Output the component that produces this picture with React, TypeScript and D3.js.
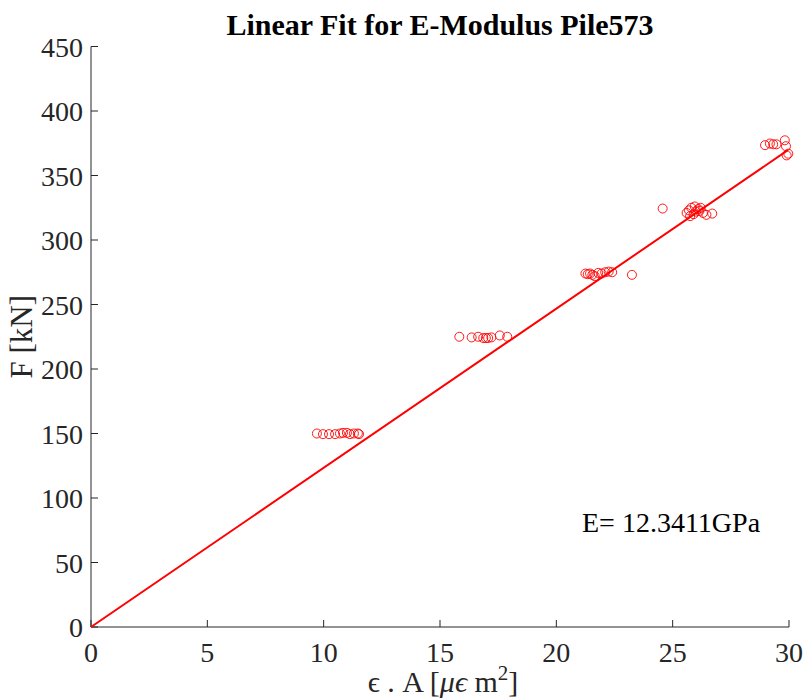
import React from "react";
import * as d3 from "d3";

const strainArea: number[] = [
  9.71, 9.97, 10.23, 10.49, 10.7, 10.83, 11.0, 11.13, 11.3, 11.47, 11.52,
  15.83, 16.36, 16.64, 16.86, 16.97, 17.07, 17.21, 17.57, 17.89,
  21.25, 21.35, 21.45, 21.55, 21.65, 21.8, 21.95, 22.1, 22.25, 22.4, 23.25,
  24.57, 25.6, 25.7, 25.8, 25.9, 26.0, 26.1, 26.2, 26.3, 26.45, 26.7, 25.75, 25.95, 26.15,
  28.97, 29.18, 29.32, 29.46, 29.82, 29.87, 29.97, 29.9,
];
const force: number[] = [
  150, 149.5, 149.5, 149.5, 150, 150.5, 150.5, 149.5, 150, 150, 149.5,
  225, 224.5, 225, 224, 224, 224, 224.5, 226, 225,
  274, 273.5, 274, 273, 272, 274.5, 274, 275, 275.5, 275, 273,
  324.4, 321, 323, 325, 320, 322, 324, 325, 321, 319.5, 320.5, 318.5, 326, 322.5,
  373.5, 374.8, 374.2, 374.2, 377.3, 372.7, 366.9, 365.6,
];
const modulus = 12.3411;
const fitX: number[] = [0, 29.95];
const xTicks: number[] = [0, 5, 10, 15, 20, 25, 30];
const yTicks: number[] = [0, 50, 100, 150, 200, 250, 300, 350, 400, 450];

export default function App() {
  const W = 806, H = 698;
  const left = 91, right = 789, top = 46.5, bottom = 627;
  const x = d3.scaleLinear().domain([0, 30]).range([left - 8, right - 8]);
  const y = d3.scaleLinear().domain([0, 450]).range([bottom - 8, top - 8]);
  const axisColor = "#262626";
  const font = "'Liberation Serif', 'Times New Roman', serif";
  const line = d3.line<number>().x((d) => x(d)).y((d) => y(d * modulus));
  return (
    <svg width={W} height={H} style={{ position: "absolute", left: 0, top: 0 }}>
      <rect x={0} y={0} width={W} height={H} fill="white" />
      <g transform="translate(8,8)">
        <line x1={x(0)} x2={x(30)} y1={y(0)} y2={y(0)} stroke={axisColor} strokeWidth={1} />
        <line x1={x(0)} x2={x(0)} y1={y(0)} y2={y(450)} stroke={axisColor} strokeWidth={1} />
        {xTicks.map((t) => (
          <g key={"xt" + t}>
            <line x1={x(t)} x2={x(t)} y1={y(0)} y2={y(0) - 7} stroke={axisColor} />
            <text x={x(t)} y={y(0) + 35} textAnchor="middle" fontFamily={font} fontSize={28} fill={axisColor}>
              {t}
            </text>
          </g>
        ))}
        {yTicks.map((t) => (
          <g key={"yt" + t}>
            <line x1={x(0)} x2={x(0) + 7} y1={y(t)} y2={y(t)} stroke={axisColor} />
            <text x={x(0) - 8} y={y(t) + 10} textAnchor="end" fontFamily={font} fontSize={28} fill={axisColor}>
              {t}
            </text>
          </g>
        ))}
        <path d={line(fitX) || ""} fill="none" stroke="#ff0000" strokeWidth={2} />
        {strainArea.map((v, i) => (
          <circle key={i} cx={x(v)} cy={y(force[i])} r={4.5} fill="none" stroke="#ff0000" strokeWidth={0.9} />
        ))}
        <text x={574} y={524} fontFamily={font} fontSize={28} fill="#000">
          E= 12.3411GPa
        </text>
        <text x={432} y={27} textAnchor="middle" fontFamily={font} fontWeight="bold" fontSize={30} fill="#000">
          Linear Fit for E-Modulus Pile573
        </text>
        <text x={435} y={684} textAnchor="middle" fontFamily={font} fontSize={30} fill={axisColor}>
          <tspan>ϵ . A [</tspan>
          <tspan fontStyle="italic">μϵ</tspan>
          <tspan> m</tspan>
          <tspan dy={-12} fontSize={21}>2</tspan>
          <tspan dy={12}>]</tspan>
        </text>
        <text transform={`translate(${24},${(y(0) + y(450)) / 2}) rotate(-90)`} textAnchor="middle" fontFamily={font} fontSize={31} fill={axisColor}>
          F [kN]
        </text>
      </g>
    </svg>
  );
}
